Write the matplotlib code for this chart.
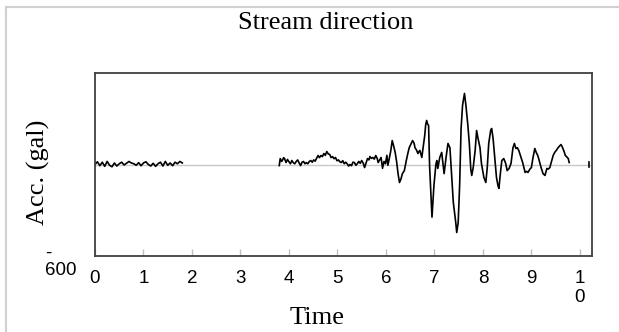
import matplotlib.pyplot as plt
from matplotlib.patches import Rectangle
from matplotlib.transforms import ScaledTranslation

# first record (0 - 1.8 s), step 0.05 s
t1 = [i * 0.05 for i in range(37)]
a1 = [0, 18, -8, 15, -12, 20, -5, -15, 10, -10, 5, 15, -3, 8, 20, 10, 5, -5, 12,
      -8, 10, 18, 0, -10, 8, -12, 5, 15, -10, 20, -5, 10, -8, 15, 5, 20, 10]

# second record (3.8 - 9.8 s)
t2 = [3.80, 3.82, 3.85, 3.87, 3.89, 3.91, 3.94, 3.97, 4.00, 4.03, 4.06, 4.09, 4.12,
      4.15, 4.18, 4.21, 4.24, 4.27, 4.30, 4.33, 4.36, 4.39, 4.42, 4.45, 4.48, 4.51,
      4.54, 4.57, 4.60, 4.63, 4.66, 4.69, 4.72, 4.75, 4.78, 4.81, 4.84, 4.87, 4.90,
      4.93, 4.96, 4.99, 5.02, 5.05, 5.08, 5.11, 5.14, 5.17, 5.20, 5.23, 5.26, 5.29,
      5.32, 5.35, 5.38, 5.41, 5.44, 5.47, 5.50, 5.53, 5.56, 5.59, 5.62, 5.65, 5.67,
      5.70, 5.73, 5.76, 5.79, 5.82, 5.84, 5.87, 5.90, 5.93, 5.96, 5.99, 6.02, 6.04,
      6.07, 6.10, 6.13, 6.16, 6.19, 6.22, 6.25, 6.28, 6.31, 6.34, 6.38, 6.42, 6.45,
      6.48, 6.51, 6.55, 6.58, 6.60, 6.63, 6.66, 6.68, 6.70, 6.72, 6.74, 6.77, 6.80,
      6.82, 6.84, 6.86, 6.88, 6.90, 6.92, 6.95, 6.99, 7.03, 7.05, 7.07, 7.11, 7.15,
      7.18, 7.20, 7.24, 7.28, 7.32, 7.36, 7.39, 7.44, 7.46, 7.49, 7.52, 7.55, 7.58,
      7.62, 7.65, 7.69, 7.72, 7.75, 7.77, 7.80, 7.84, 7.87, 7.90, 7.94, 7.97, 8.02,
      8.06, 8.09, 8.12, 8.16, 8.18, 8.21, 8.25, 8.28, 8.31, 8.33, 8.36, 8.39, 8.43,
      8.47, 8.50, 8.54, 8.58, 8.62, 8.65, 8.68, 8.71, 8.74, 8.76, 8.82, 8.87, 8.90,
      8.93, 8.97, 9.00, 9.03, 9.07, 9.10, 9.13, 9.15, 9.20, 9.24, 9.28, 9.32, 9.35,
      9.38, 9.42, 9.45, 9.48, 9.52, 9.55, 9.58, 9.61, 9.63, 9.65, 9.68, 9.70, 9.73,
      9.76, 9.78]
a2 = [-7, 39, 20, 30, 45, 38, 13, 33, 18, 5, 26, 12, 5,
      20, 30, 10, -7, 15, 20, 5, 12, 5, 20, 26, 15, 30,
      22, 40, 59, 45, 59, 52, 72, 60, 85, 70, 66, 45, 52,
      38, 46, 25, 30, 18, 13, 25, 5, 15, 5, -10, 0, -8,
      15, 13, -5, 5, 20, 8, 26, 10, -20, 10, 39, 30, 52,
      40, 46, 35, 59, 40, 13, 30, 46, -25, 20, 5, 60, -5,
      40, 90, 157, 120, 80, 20, -60, -118, -95, -60, -40, 26, 70,
      110, 130, 157, 140, 110, 95, 72, 85, 92, 70, 46, 120, 190,
      260, 289, 265, 256, -7, -138, -345, -138, 0, 26, -26, 46, 79,
      -7, -60, 46, 138, 110, -92, -250, -380, -446, -380, -138, 236, 387,
      466, 387, 256, 138, -30, -72, -20, 92, 223, 171, 110, 7, -85,
      -118, -20, 138, 223, 236, 171, 26, -85, -138, -157, -60, 26, 39,
      7, -40, -26, 7, 110, 138, 105, 110, 92, 72, 13, -52, -45,
      -52, -30, -20, 39, 105, 79, 60, 39, -20, -60, -72, -26, -30,
      -20, 26, 60, 79, 95, 110, 120, 131, 120, 105, 80, 59, 50,
      39, 13]

# stray sample at the end
t3 = [10.19, 10.19]
a3 = [15, -15]

xticks = list(range(11))
xlabels = [str(i) for i in range(10)] + ['1\n0']

serif = 'Liberation Serif'
sans = 'Liberation Sans'

fig = plt.figure(figsize=(6.19, 3.32), dpi=100)
fig.patches.append(Rectangle((6 / 619, -0.1), 1.2, (332 - 7) / 332 + 0.1,
                             transform=fig.transFigure, fill=False,
                             edgecolor='#d0d0d0', linewidth=1.5))
ax = fig.add_axes([95 / 619, (332 - 256) / 332, 497 / 619, 183 / 332])

ax.axhline(0, color='#c8c8c8', linewidth=1, zorder=1)
for t, a in [(t1, a1), (t2, a2), (t3, a3)]:
    ax.plot(t, a, color='black', linewidth=1.2, zorder=2)

ax.set_xlim(0, 10.25)
ax.set_ylim(-600, 600)
ax.set_xticks(xticks)
ax.set_xticklabels(xlabels, fontfamily=sans, fontsize=13.5)
ax.set_yticks([-600])
ax.set_yticklabels(['-\n600'], fontfamily=sans, fontsize=13.5,
                   multialignment='left', linespacing=1.0)
ax.tick_params(axis='x', direction='in', length=5, width=1, color='#c0c0c0', pad=10)
ax.tick_params(axis='y', length=0, pad=13)
shift = ScaledTranslation(0, -4 / 100, fig.dpi_scale_trans)
for tick in ax.yaxis.get_major_ticks():
    tick.label1.set_transform(tick.label1.get_transform() + shift)
for s in ax.spines.values():
    s.set_color('#404040')
    s.set_linewidth(1.3)

fig.text(326 / 619, 1 - 23 / 332, 'Stream direction', fontfamily=serif,
         fontsize=19, ha='center', va='center')
fig.text(317 / 619, 1 - 318 / 332, 'Time', fontfamily=serif,
         fontsize=19, ha='center', va='center')
fig.text(38 / 619, 1 - 172 / 332, 'Acc. (gal)', fontfamily=serif,
         fontsize=19, ha='center', va='center', rotation=90)

fig.savefig('out.png', dpi=100)
